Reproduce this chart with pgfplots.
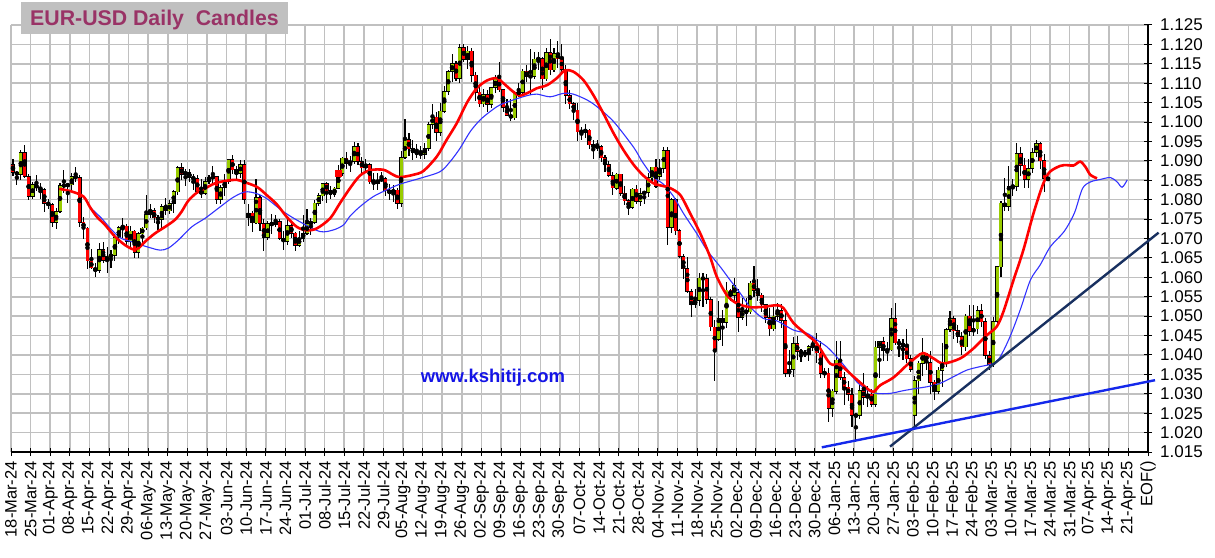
\documentclass[border=0pt]{standalone}
\usepackage{pgfplots}
\pgfplotsset{compat=1.18}
\usepackage{pgfplotstable}
\usepackage{fontspec}
\setmainfont{Liberation Sans}

\definecolor{upcol}{RGB}{153,204,0}
\definecolor{dncol}{RGB}{255,0,0}
\definecolor{gridcol}{RGB}{192,192,192}
\definecolor{titlecol}{RGB}{153,51,102}
\definecolor{mablue}{RGB}{50,50,255}
\definecolor{navyline}{RGB}{24,48,96}
\definecolor{trendblue}{RGB}{20,40,235}
\definecolor{webblue}{RGB}{20,20,230}

% daily candles, d = trading day counted from Mon 18-Mar-24 (5 per week)
\pgfplotstableread{
d o h l c
0 1.0890 1.0904 1.0861 1.0870
1 1.0870 1.0875 1.0838 1.0865
2 1.0865 1.0928 1.0850 1.0922
3 1.0922 1.0942 1.0855 1.0860
4 1.0860 1.0866 1.0800 1.0808
5 1.0808 1.0845 1.0802 1.0838
6 1.0838 1.0864 1.0822 1.0831
7 1.0831 1.0842 1.0802 1.0826
8 1.0826 1.0830 1.0768 1.0790
9 1.0790 1.0803 1.0776 1.0788
10 1.0788 1.0792 1.0730 1.0741
11 1.0741 1.0779 1.0724 1.0770
12 1.0770 1.0842 1.0765 1.0836
13 1.0836 1.0876 1.0818 1.0837
14 1.0837 1.0843 1.0791 1.0838
15 1.0838 1.0868 1.0822 1.0860
16 1.0860 1.0885 1.0845 1.0857
17 1.0857 1.0864 1.0729 1.0742
18 1.0742 1.0756 1.0700 1.0727
19 1.0727 1.0730 1.0622 1.0642
20 1.0642 1.0672 1.0622 1.0624
21 1.0624 1.0637 1.0601 1.0617
22 1.0617 1.0688 1.0612 1.0672
23 1.0672 1.0690 1.0638 1.0643
24 1.0643 1.0679 1.0610 1.0655
25 1.0655 1.0670 1.0624 1.0656
26 1.0656 1.0712 1.0642 1.0703
27 1.0703 1.0733 1.0687 1.0728
28 1.0728 1.0752 1.0700 1.0732
29 1.0732 1.0738 1.0677 1.0693
30 1.0693 1.0732 1.0672 1.0719
31 1.0719 1.0722 1.0650 1.0665
32 1.0665 1.0718 1.0650 1.0712
33 1.0712 1.0730 1.0680 1.0727
34 1.0727 1.0812 1.0722 1.0761
35 1.0761 1.0790 1.0752 1.0771
36 1.0771 1.0779 1.0740 1.0753
37 1.0753 1.0760 1.0723 1.0749
38 1.0749 1.0790 1.0725 1.0782
39 1.0782 1.0804 1.0760 1.0771
40 1.0771 1.0800 1.0762 1.0790
41 1.0790 1.0825 1.0765 1.0820
42 1.0820 1.0888 1.0811 1.0883
43 1.0883 1.0895 1.0850 1.0866
44 1.0866 1.0880 1.0836 1.0870
45 1.0870 1.0880 1.0846 1.0857
46 1.0857 1.0866 1.0826 1.0854
47 1.0854 1.0863 1.0815 1.0821
48 1.0821 1.0852 1.0805 1.0816
49 1.0816 1.0858 1.0812 1.0847
50 1.0847 1.0863 1.0841 1.0857
51 1.0857 1.0888 1.0844 1.0859
52 1.0859 1.0862 1.0789 1.0800
53 1.0800 1.0838 1.0788 1.0831
54 1.0831 1.0866 1.0810 1.0848
55 1.0848 1.0905 1.0840 1.0904
56 1.0904 1.0915 1.0866 1.0877
57 1.0877 1.0886 1.0851 1.0867
58 1.0867 1.0902 1.0857 1.0891
59 1.0891 1.0901 1.0790 1.0801
60 1.0755 1.0790 1.0732 1.0765
61 1.0765 1.0772 1.0718 1.0740
62 1.0740 1.0852 1.0737 1.0806
63 1.0806 1.0812 1.0720 1.0739
64 1.0739 1.0749 1.0668 1.0702
65 1.0702 1.0745 1.0695 1.0738
66 1.0738 1.0762 1.0712 1.0737
67 1.0737 1.0761 1.0730 1.0744
68 1.0744 1.0751 1.0695 1.0700
69 1.0700 1.0720 1.0671 1.0692
70 1.0692 1.0749 1.0683 1.0734
71 1.0734 1.0740 1.0702 1.0714
72 1.0714 1.0717 1.0667 1.0683
73 1.0683 1.0719 1.0677 1.0701
74 1.0701 1.0761 1.0690 1.0713
75 1.0713 1.0776 1.0710 1.0738
76 1.0738 1.0753 1.0710 1.0742
77 1.0742 1.0800 1.0737 1.0791
78 1.0791 1.0816 1.0784 1.0810
79 1.0810 1.0844 1.0797 1.0841
80 1.0841 1.0845 1.0791 1.0823
81 1.0823 1.0834 1.0802 1.0814
82 1.0814 1.0833 1.0806 1.0830
83 1.0830 1.0890 1.0827 1.0868
84 1.0868 1.0910 1.0860 1.0907
85 1.0907 1.0922 1.0880 1.0894
86 1.0894 1.0912 1.0872 1.0898
87 1.0898 1.0948 1.0893 1.0937
88 1.0937 1.0945 1.0890 1.0898
89 1.0898 1.0911 1.0870 1.0882
90 1.0882 1.0905 1.0871 1.0890
91 1.0890 1.0895 1.0840 1.0846
92 1.0846 1.0870 1.0825 1.0842
93 1.0842 1.0869 1.0825 1.0849
94 1.0849 1.0871 1.0845 1.0855
95 1.0855 1.0858 1.0810 1.0823
96 1.0823 1.0840 1.0800 1.0818
97 1.0818 1.0837 1.0795 1.0825
98 1.0825 1.0831 1.0777 1.0790
99 1.0790 1.0926 1.0780 1.0909
100 1.0909 1.1009 1.0905 1.0955
101 1.0955 1.0972 1.0912 1.0931
102 1.0931 1.0954 1.0902 1.0921
103 1.0921 1.0944 1.0908 1.0920
104 1.0920 1.0939 1.0906 1.0917
105 1.0917 1.0945 1.0905 1.0932
106 1.0932 1.1000 1.0925 1.0994
107 1.0994 1.1047 1.0982 1.1013
108 1.1013 1.1025 1.0950 1.0973
109 1.0973 1.1048 1.0965 1.1028
110 1.1028 1.1092 1.1024 1.1079
111 1.1079 1.1135 1.1070 1.1130
112 1.1130 1.1174 1.1104 1.1151
113 1.1151 1.1156 1.1105 1.1113
114 1.1113 1.1200 1.1101 1.1192
115 1.1192 1.1202 1.1154 1.1161
116 1.1161 1.1196 1.1137 1.1183
117 1.1183 1.1190 1.1102 1.1121
118 1.1121 1.1130 1.1055 1.1077
119 1.1077 1.1089 1.1040 1.1047
120 1.1047 1.1084 1.1040 1.1070
121 1.1070 1.1082 1.1026 1.1045
122 1.1045 1.1090 1.1036 1.1089
123 1.1089 1.1121 1.1075 1.1112
124 1.1112 1.1155 1.1078 1.1083
125 1.1083 1.1085 1.1026 1.1038
126 1.1038 1.1060 1.1017 1.1018
127 1.1018 1.1060 1.1002 1.1011
128 1.1011 1.1080 1.1005 1.1075
129 1.1075 1.1101 1.1064 1.1076
130 1.1076 1.1136 1.1070 1.1131
131 1.1131 1.1147 1.1102 1.1117
132 1.1117 1.1189 1.1069 1.1118
133 1.1118 1.1180 1.1112 1.1162
134 1.1162 1.1180 1.1135 1.1163
135 1.1163 1.1168 1.1083 1.1111
136 1.1111 1.1190 1.1106 1.1179
137 1.1179 1.1214 1.1122 1.1134
138 1.1134 1.1190 1.1128 1.1176
139 1.1176 1.1209 1.1140 1.1163
140 1.1163 1.1200 1.1130 1.1136
141 1.1136 1.1148 1.1047 1.1068
142 1.1068 1.1083 1.1033 1.1047
143 1.1047 1.1052 1.1006 1.1031
144 1.1031 1.1050 1.0950 1.0975
145 1.0975 1.0987 1.0953 1.0975
146 1.0975 1.0995 1.0960 1.0979
147 1.0979 1.0982 1.0930 1.0941
148 1.0941 1.0953 1.0906 1.0936
149 1.0936 1.0955 1.0925 1.0937
150 1.0937 1.0941 1.0897 1.0908
151 1.0908 1.0915 1.0872 1.0891
152 1.0891 1.0900 1.0859 1.0862
153 1.0862 1.0871 1.0811 1.0830
154 1.0830 1.0869 1.0825 1.0866
155 1.0866 1.0867 1.0810 1.0817
156 1.0817 1.0835 1.0787 1.0797
157 1.0797 1.0802 1.0761 1.0780
158 1.0780 1.0829 1.0775 1.0827
159 1.0827 1.0837 1.0790 1.0796
160 1.0796 1.0830 1.0785 1.0816
161 1.0816 1.0823 1.0790 1.0819
162 1.0819 1.0870 1.0806 1.0856
163 1.0856 1.0885 1.0842 1.0884
164 1.0884 1.0905 1.0830 1.0834
165 1.0860 1.0905 1.0850 1.0881
166 1.0881 1.0937 1.0870 1.0926
167 1.0926 1.0937 1.0683 1.0728
168 1.0728 1.0805 1.0715 1.0800
169 1.0800 1.0805 1.0710 1.0720
170 1.0720 1.0725 1.0650 1.0654
171 1.0654 1.0660 1.0595 1.0622
172 1.0622 1.0653 1.0560 1.0564
173 1.0564 1.0570 1.0497 1.0530
174 1.0530 1.0570 1.0520 1.0541
175 1.0541 1.0610 1.0525 1.0598
176 1.0598 1.0610 1.0523 1.0596
177 1.0596 1.0609 1.0530 1.0543
178 1.0543 1.0550 1.0462 1.0472
179 1.0472 1.0490 1.0333 1.0415
180 1.0440 1.0540 1.0435 1.0494
181 1.0494 1.0517 1.0424 1.0484
182 1.0484 1.0588 1.0470 1.0567
183 1.0567 1.0570 1.0540 1.0554
184 1.0554 1.0597 1.0540 1.0578
185 1.0560 1.0570 1.0460 1.0497
186 1.0497 1.0546 1.0490 1.0512
187 1.0512 1.0546 1.0475 1.0511
188 1.0511 1.0590 1.0505 1.0585
189 1.0585 1.0630 1.0550 1.0567
190 1.0567 1.0595 1.0540 1.0554
191 1.0554 1.0560 1.0510 1.0529
192 1.0529 1.0530 1.0483 1.0497
193 1.0497 1.0520 1.0450 1.0467
194 1.0467 1.0524 1.0462 1.0500
195 1.0500 1.0535 1.0490 1.0514
196 1.0514 1.0530 1.0470 1.0489
197 1.0489 1.0507 1.0343 1.0352
198 1.0352 1.0414 1.0344 1.0362
199 1.0362 1.0445 1.0343 1.0429
200 1.0429 1.0448 1.0387 1.0410
201 1.0410 1.0415 1.0382 1.0405
202 1.0405 1.0412 1.0396 1.0402
203 1.0402 1.0425 1.0385 1.0421
204 1.0421 1.0445 1.0410 1.0425
205 1.0425 1.0456 1.0380 1.0405
206 1.0405 1.0436 1.0340 1.0353
207 1.0353 1.0366 1.0340 1.0353
208 1.0353 1.0366 1.0226 1.0263
209 1.0263 1.0313 1.0240 1.0307
210 1.0307 1.0437 1.0300 1.0387
211 1.0387 1.0436 1.0335 1.0342
212 1.0342 1.0355 1.0272 1.0317
213 1.0317 1.0333 1.0282 1.0298
214 1.0298 1.0314 1.0215 1.0244
215 1.0244 1.0250 1.0177 1.0244
216 1.0244 1.0322 1.0234 1.0308
217 1.0308 1.0354 1.0272 1.0291
218 1.0291 1.0320 1.0265 1.0299
219 1.0299 1.0312 1.0266 1.0273
220 1.0273 1.0435 1.0265 1.0420
221 1.0420 1.0435 1.0340 1.0434
222 1.0434 1.0446 1.0385 1.0411
223 1.0411 1.0433 1.0384 1.0413
224 1.0413 1.0520 1.0410 1.0494
225 1.0494 1.0533 1.0425 1.0431
226 1.0431 1.0442 1.0395 1.0430
227 1.0430 1.0441 1.0388 1.0421
228 1.0421 1.0468 1.0380 1.0390
229 1.0390 1.0400 1.0355 1.0362
230 1.0245 1.0345 1.0211 1.0333
231 1.0333 1.0385 1.0300 1.0379
232 1.0379 1.0443 1.0345 1.0403
233 1.0403 1.0406 1.0360 1.0381
234 1.0381 1.0410 1.0300 1.0330
235 1.0330 1.0335 1.0285 1.0306
236 1.0306 1.0370 1.0300 1.0361
237 1.0361 1.0430 1.0317 1.0380
238 1.0380 1.0470 1.0370 1.0465
239 1.0465 1.0513 1.0460 1.0494
240 1.0494 1.0500 1.0440 1.0462
241 1.0462 1.0478 1.0430 1.0447
242 1.0447 1.0458 1.0400 1.0421
243 1.0421 1.0505 1.0411 1.0500
244 1.0500 1.0528 1.0450 1.0460
245 1.0460 1.0528 1.0450 1.0467
246 1.0467 1.0527 1.0455 1.0514
247 1.0514 1.0530 1.0471 1.0485
248 1.0485 1.0495 1.0390 1.0398
249 1.0398 1.0410 1.0360 1.0376
250 1.0376 1.0497 1.0370 1.0486
251 1.0486 1.0630 1.0475 1.0627
252 1.0627 1.0797 1.0600 1.0791
253 1.0791 1.0855 1.0770 1.0783
254 1.0783 1.0888 1.0770 1.0833
255 1.0833 1.0853 1.0810 1.0835
256 1.0835 1.0947 1.0822 1.0918
257 1.0918 1.0935 1.0860 1.0889
258 1.0889 1.0907 1.0830 1.0852
259 1.0852 1.0905 1.0830 1.0880
260 1.0880 1.0932 1.0870 1.0922
261 1.0922 1.0955 1.0911 1.0945
262 1.0945 1.0948 1.0880 1.0900
263 1.0900 1.0917 1.0820 1.0855
264 1.0855 1.0858 1.0848 1.0853
}\candles

% red moving average
\pgfplotstableread{
u p
12.3 1.0828
15.5 1.0821
18.5 1.0808
20.2 1.0780
21.9 1.0756
24.0 1.0735
26.5 1.0705
29.1 1.0683
31.2 1.0672
32.5 1.0675
34.2 1.0692
36.7 1.0713
39.3 1.0730
41.8 1.0748
43.5 1.0769
45.2 1.0797
47.4 1.0818
49.5 1.0829
52.0 1.0842
55.0 1.0849
57.6 1.0851
59.3 1.0846
62.7 1.0833
65.2 1.0812
67.8 1.0788
70.3 1.0756
72.9 1.0730
75.4 1.0721
78.0 1.0726
81.4 1.0752
83.9 1.0791
86.5 1.0830
89.0 1.0862
91.6 1.0876
95.0 1.0877
97.5 1.0864
99.2 1.0858
102.6 1.0864
105.2 1.0874
108.6 1.0911
111.1 1.0954
113.7 1.0997
116.3 1.1050
118.8 1.1087
121.4 1.1107
123.9 1.1113
125.6 1.1100
128.1 1.1078
129.8 1.1068
132.4 1.1078
134.1 1.1087
136.7 1.1095
139.2 1.1113
141.3 1.1133
143.4 1.1130
146.0 1.1108
148.5 1.1070
151.1 1.1022
153.7 1.0971
156.2 1.0928
158.8 1.0890
161.3 1.0862
163.9 1.0842
166.4 1.0835
168.1 1.0830
170.7 1.0812
173.2 1.0765
175.8 1.0713
178.3 1.0653
180.0 1.0602
182.6 1.0554
185.1 1.0533
188.5 1.0523
191.9 1.0524
195.3 1.0528
197.0 1.0521
199.6 1.0482
203.0 1.0452
205.5 1.0430
208.9 1.0378
211.5 1.0374
214.9 1.0344
218.3 1.0314
220.0 1.0305
221.7 1.0322
225.1 1.0342
228.5 1.0374
231.0 1.0395
232.7 1.0405
235.3 1.0391
237.8 1.0378
242.1 1.0391
245.5 1.0417
248.9 1.0451
251.4 1.0473
253.1 1.0511
255.7 1.0593
258.2 1.0670
260.8 1.0765
263.3 1.0842
265.0 1.0872
267.6 1.0887
269.3 1.0889
271.0 1.0888
272.7 1.0898
274.0 1.0885
275.3 1.0864
277.0 1.0855
}\redma

% blue moving average
\pgfplotstableread{
u p
20.2 1.0780
23.1 1.0752
25.7 1.0722
28.2 1.0700
30.8 1.0692
33.3 1.0683
35.9 1.0675
38.0 1.0670
40.1 1.0675
42.7 1.0696
46.1 1.0730
49.5 1.0752
52.9 1.0778
56.5 1.0805
59.7 1.0820
62.5 1.0816
65.2 1.0803
69.5 1.0769
73.7 1.0743
78.8 1.0718
82.2 1.0722
84.8 1.0735
86.5 1.0758
89.0 1.0782
92.4 1.0808
95.8 1.0825
99.2 1.0840
104.3 1.0855
109.4 1.0872
112.0 1.0898
114.5 1.0932
117.1 1.0975
119.6 1.1005
122.2 1.1027
124.7 1.1044
128.1 1.1057
131.6 1.1068
134.1 1.1072
137.5 1.1065
140.9 1.1074
143.4 1.1072
146.9 1.1057
149.4 1.1040
153.7 1.1001
158.8 1.0935
161.0 1.0898
163.9 1.0858
166.4 1.0840
169.0 1.0808
171.5 1.0765
174.9 1.0713
177.5 1.0670
180.9 1.0627
183.4 1.0593
186.0 1.0559
188.5 1.0524
191.9 1.0494
195.3 1.0488
199.6 1.0464
203.0 1.0456
205.5 1.0439
208.1 1.0421
210.6 1.0395
213.2 1.0364
215.7 1.0331
218.3 1.0310
220.8 1.0301
224.2 1.0301
227.6 1.0308
231.0 1.0314
233.6 1.0318
237.0 1.0327
240.4 1.0344
243.8 1.0361
247.2 1.0370
250.6 1.0378
252.3 1.0395
254.8 1.0447
257.4 1.0516
260.0 1.0593
262.5 1.0632
265.1 1.0679
268.6 1.0718
271.2 1.0765
273.3 1.0829
275.4 1.0846
277.8 1.0852
280.4 1.0857
282.1 1.0846
283.4 1.0832
284.7 1.0851
}\bluema

\begin{document}
\begin{tikzpicture}
\begin{axis}[
  scale only axis, width=1137bp, height=427bp,
  at={(0,0)}, anchor=south west,
  xmin=0, xmax=290, ymin=1.015, ymax=1.125,
  clip=false,
  axis x line*=bottom, axis y line*=right,
  axis line style={-, black, line width=1.5bp},
  grid=major, major grid style={gridcol, line width=1.6bp},
  xtick={0,5,...,290},
  xticklabels={18-Mar-24,25-Mar-24,01-Apr-24,08-Apr-24,15-Apr-24,22-Apr-24,29-Apr-24,
    06-May-24,13-May-24,20-May-24,27-May-24,03-Jun-24,10-Jun-24,17-Jun-24,24-Jun-24,
    01-Jul-24,08-Jul-24,15-Jul-24,22-Jul-24,29-Jul-24,05-Aug-24,12-Aug-24,19-Aug-24,
    26-Aug-24,02-Sep-24,09-Sep-24,16-Sep-24,23-Sep-24,30-Sep-24,07-Oct-24,14-Oct-24,
    21-Oct-24,28-Oct-24,04-Nov-24,11-Nov-24,18-Nov-24,25-Nov-24,02-Dec-24,09-Dec-24,
    16-Dec-24,23-Dec-24,30-Dec-24,06-Jan-25,13-Jan-25,20-Jan-25,27-Jan-25,03-Feb-25,
    10-Feb-25,17-Feb-25,24-Feb-25,03-Mar-25,10-Mar-25,17-Mar-25,24-Mar-25,31-Mar-25,
    07-Apr-25,14-Apr-25,21-Apr-25,EOF()},
  ytick={1.015,1.020,1.025,1.030,1.035,1.040,1.045,1.050,1.055,1.060,1.065,1.070,
    1.075,1.080,1.085,1.090,1.095,1.100,1.105,1.110,1.115,1.120,1.125},
  yticklabels={1.015,1.020,1.025,1.030,1.035,1.040,1.045,1.050,1.055,1.060,1.065,1.070,
    1.075,1.080,1.085,1.090,1.095,1.100,1.105,1.110,1.115,1.120,1.125},
  xtick align=center, ytick align=center,
  major tick length=8bp,
  tick style={black, line width=1bp},
  xticklabel style={rotate=90, anchor=east, inner sep=0pt,
    font=\fontsize{16.5bp}{18bp}\selectfont},
  xticklabel shift=5bp,
  yticklabel style={anchor=west, inner sep=0pt,
    font=\fontsize{17bp}{19bp}\selectfont},
  yticklabel shift=8bp,
]
% wicks
\addplot[only marks, mark=none, forget plot,
  error bars/.cd, y dir=both, y explicit, error mark=none,
  error bar style={solid, black, line width=1.1bp}]
  table[x expr=\thisrow{d}+0.5, y expr=0.5*(\thisrow{h}+\thisrow{l}),
        y error expr=0.5*(\thisrow{h}-\thisrow{l})] {\candles};
% body outlines
\addplot[only marks, mark=none, forget plot,
  error bars/.cd, y dir=both, y explicit, error mark=none,
  error bar style={solid, black, line width=3.9bp}]
  table[x expr=\thisrow{d}+0.5, y expr=0.5*(\thisrow{o}+\thisrow{c}),
        y error expr={0.5*abs(\thisrow{c}-\thisrow{o})+0.00012}] {\candles};
% rising bodies
\addplot[only marks, mark=none, forget plot,
  restrict expr to domain={\thisrow{c}-\thisrow{o}}{0:1},
  error bars/.cd, y dir=both, y explicit, error mark=none,
  error bar style={solid, upcol, line width=3.0bp}]
  table[x expr=\thisrow{d}+0.5, y expr=0.5*(\thisrow{o}+\thisrow{c}),
        y error expr={max(0.5*abs(\thisrow{c}-\thisrow{o})-0.00006,0)}] {\candles};
% falling bodies
\addplot[only marks, mark=none, forget plot,
  restrict expr to domain={\thisrow{c}-\thisrow{o}}{-1:0},
  error bars/.cd, y dir=both, y explicit, error mark=none,
  error bar style={solid, dncol, line width=3.0bp}]
  table[x expr=\thisrow{d}+0.5, y expr=0.5*(\thisrow{o}+\thisrow{c}),
        y error expr={max(0.5*abs(\thisrow{c}-\thisrow{o})-0.00006,0)}] {\candles};
% marker on 11-Jul-24
\addplot[only marks, mark=square*, mark size=3bp, dncol] coordinates {(83.5,1.0869)};

% moving averages
\addplot[mablue, line width=1.1bp, smooth, mark=none] table[x=u, y=p] {\bluema};
\addplot[dncol, line width=2.6bp, smooth, mark=none] table[x=u, y=p] {\redma};

% trend lines
\addplot[navyline, line width=2.4bp, mark=none] coordinates {(224.2,1.0164) (292.7,1.0715)};
\addplot[trendblue, line width=2.4bp, mark=none] coordinates {(206.8,1.0162) (291.8,1.0335)};
\end{axis}

% title box and site name
\fill[gridcol] (10bp,418bp) rectangle (277bp,450bp);
\node[anchor=base west, inner sep=0pt, text=titlecol,
  font=\fontsize{21.3bp}{24bp}\selectfont\bfseries] at (19bp,426bp) {EUR-USD Daily\ \ Candles};
\node[inner sep=0pt, text=webblue, font=\fontsize{18.5bp}{21bp}\selectfont\bfseries]
  at (482bp,74bp) {www.kshitij.com};

\pgfresetboundingbox
\path[use as bounding box] (-11bp,-106bp) rectangle (1204bp,452bp);
\end{tikzpicture}
\end{document}
